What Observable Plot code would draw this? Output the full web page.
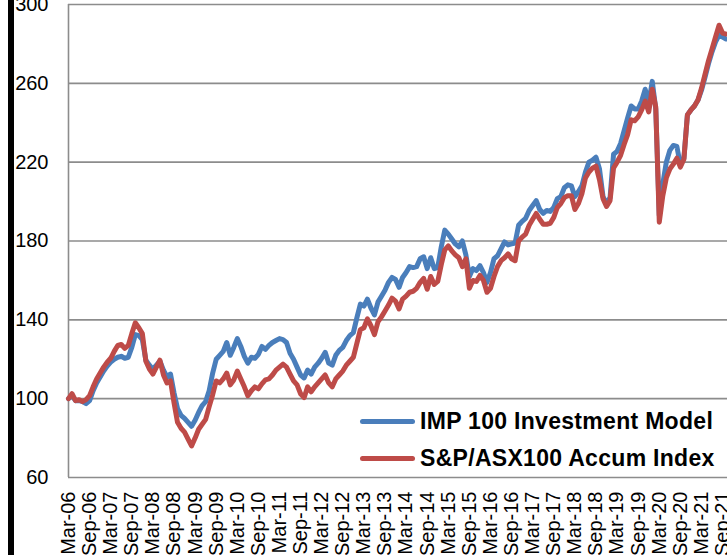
<!DOCTYPE html>
<html>
<head>
<meta charset="utf-8">
<script src="https://cdn.jsdelivr.net/npm/d3@7"></script>
<script src="https://cdn.jsdelivr.net/npm/@observablehq/plot@0.6"></script>
<style>
  html, body { margin: 0; padding: 0; background: #fff; overflow: hidden; }
  #wrap { position: relative; width: 727px; height: 555px; }
  #bar { position: absolute; left: 8px; top: 0; width: 6px; height: 555px; background: #000; }
  .leg { position: absolute; font-family: "Liberation Sans", Arial, sans-serif; font-weight: bold; font-size: 23px; letter-spacing: 0.3px; line-height: 23px; color: #000; white-space: nowrap; }
  .sw { position: absolute; width: 55px; height: 5px; border-radius: 2.5px; }
</style>
</head>
<body>
<div id="wrap">
  <div id="chart"></div>
  <div id="bar"></div>
</div>
<script>
// Series names
const seriesNames = ["IMP 100 Investment Model", "S&P/ASX100 Accum Index"];
const seriesColors = ["#4a7ebb", "#be4b48"];

// Month-end index values, Mar-06 onward (one value per month)
const imp100 = [
  100, 101.5, 99, 99, 98.5, 97.5, 99, 104, 108, 111, 114, 116.5,
  118.5, 120, 121, 121.5, 120.5, 121, 126, 132.5, 132, 130, 119.5, 117,
  115, 117, 119, 114.5, 111, 112.5, 103, 95, 91.5, 90, 88, 86,
  89, 93, 96.5, 98.5, 104, 113, 120, 122, 124, 128.5, 122, 126,
  130.5, 126.5, 121.5, 118, 121, 120.5, 122.5, 126.5, 125, 127, 128.5, 129.5,
  130.5, 130, 128.5, 123, 120, 116, 112, 110.5, 114.5, 112.5, 116, 118,
  120.5, 123.5, 118, 117, 122, 124.5, 126, 129.5, 132, 133.5, 141, 148,
  147, 150.5, 146, 142.5, 149, 152, 155, 159, 161.5, 160.5, 156.5, 161.5,
  164, 167, 166.5, 167, 171, 172, 166, 171.5, 166, 166.5, 177, 185.5,
  183.5, 181, 178.5, 177, 180, 173, 162, 166, 165, 167.5, 164, 159,
  164, 171, 172.5, 176, 179.5, 178, 178.5, 179, 188, 190, 191.5, 195.5,
  198, 200.5, 196, 194, 195.5, 195, 197, 201.5, 202.5, 207, 208.5, 208,
  202.5, 205, 208, 215, 220, 221, 222.5, 216.5, 202.5, 199, 202, 224,
  225.5, 229.5, 236, 242.5, 248.5, 247, 247, 251, 257, 250, 261, 247,
  193, 209, 220, 226, 228.5, 228, 218.5, 222, 244, 246.5, 248.5, 251.5,
  256.5, 263, 270, 276, 281, 284.5, 283.5, 282.5
];
const asx100 = [
  100, 102.5, 99, 99.5, 98.5, 99.5, 101.5, 106, 110, 113, 116, 118.5,
  120.5, 124, 127, 127.5, 125.5, 127, 133, 138.5, 136, 133, 119, 115,
  112.5, 116, 119.5, 112, 108, 109, 98, 88, 85, 83, 79.5, 76,
  80, 84.5, 87, 89.5, 96, 102, 109, 108, 110, 113, 107, 109.5,
  114, 110, 106, 101.5, 104, 106, 105, 107.5, 109.5, 110, 112, 114.5,
  116, 117.5, 116, 112.5, 109, 107, 102.5, 100.5, 106, 103.5, 106, 108,
  110, 112, 108, 106, 110, 112, 114, 117, 119, 121, 128, 135,
  136, 140.5, 137, 132.5, 139, 141.5, 144.5, 147.5, 151, 149.5, 145.5, 150.5,
  152, 154, 154.5, 156, 159, 161, 155.5, 162, 158, 159.5, 168, 175.5,
  177.5, 175, 173, 171.5, 167, 171, 156, 160, 159.5, 162.5, 160, 154,
  156, 162, 167, 170, 171.5, 173.5, 171, 170, 180, 182, 183.5, 188,
  191, 194, 191, 188.5, 188.5, 189, 192, 197, 199, 202, 203, 203,
  196, 199, 204, 212, 215, 217, 218, 211, 201.5, 197.5, 200.5, 217,
  220, 223.5, 229, 234, 241.5, 241, 243, 246.5, 251, 245.5, 257, 248,
  189.5, 203, 212, 216.5, 219, 222, 217.5, 221.5, 244, 246.5, 248.5, 251.5,
  257.5, 264.5, 271.5, 277.5, 283.5, 289.5, 285.5, 285
];

// Axis tick labels (every 6 months) and y ticks
const tickLabels = ["Mar-06","Sep-06","Mar-07","Sep-07","Mar-08","Sep-08","Mar-09","Sep-09",
  "Mar-10","Sep-10","Mar-11","Sep-11","Mar-12","Sep-12","Mar-13","Sep-13","Mar-14","Sep-14",
  "Mar-15","Sep-15","Mar-16","Sep-16","Mar-17","Sep-17","Mar-18","Sep-18","Mar-19","Sep-19",
  "Mar-20","Sep-20","Mar-21","Sep-21"];
const yTicks = [60, 100, 140, 180, 220, 260, 300];

const tickIdx = tickLabels.map((_, k) => k * 6);

const chart = Plot.plot({
  width: 727,
  height: 555,
  marginLeft: 68,
  marginRight: 0,
  marginTop: 4,
  marginBottom: 78,
  style: { fontFamily: "Liberation Sans, Arial, sans-serif", fontSize: "20px", color: "#000", background: "transparent", overflow: "visible" },
  x: { domain: [0, 187.4], ticks: tickIdx, tickFormat: i => tickLabels[Math.round(i / 6)], tickRotate: -90, tickSize: 0, tickPadding: 14, label: null },
  y: { domain: [60, 300], ticks: yTicks, tickSize: 0, tickPadding: 20, label: null },
  marks: [
    Plot.ruleY(yTicks, { stroke: "#8c8c8c", strokeWidth: 1.6 }),
    Plot.ruleX([0], { stroke: "#8c8c8c", strokeWidth: 1.6 }),
    Plot.lineY(imp100, { x: (d, i) => i, y: d => d, stroke: seriesColors[0], strokeWidth: 5 }),
    Plot.lineY(asx100, { x: (d, i) => i, y: d => d, stroke: seriesColors[1], strokeWidth: 5 })
  ]
});
document.getElementById("chart").appendChild(chart);

// Legend inside plot area
const wrap = document.getElementById("wrap");
const legendRows = [{ cy: 421 }, { cy: 458 }];
seriesNames.forEach((name, k) => {
  const sw = document.createElement("div");
  sw.className = "sw";
  sw.style.left = "360px";
  sw.style.top = (legendRows[k].cy - 2.5) + "px";
  sw.style.background = seriesColors[k];
  wrap.appendChild(sw);
  const t = document.createElement("div");
  t.className = "leg";
  t.style.left = "420px";
  t.style.top = (legendRows[k].cy - 11.2) + "px";
  t.textContent = name;
  wrap.appendChild(t);
});
</script>
</body>
</html>
